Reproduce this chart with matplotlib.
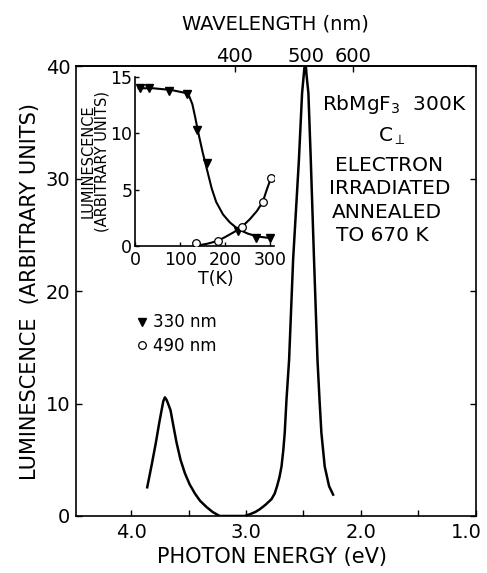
import numpy as np
import matplotlib
matplotlib.use("Agg")
from matplotlib import pyplot as plt
from matplotlib.lines import Line2D
from matplotlib.transforms import ScaledTranslation

# main spectrum, photon energy (eV) vs luminescence
energy = [3.86, 3.82, 3.785, 3.755, 3.735, 3.72, 3.706, 3.69, 3.675, 3.657,
          3.63, 3.604, 3.57, 3.532, 3.49, 3.445, 3.40, 3.344, 3.29, 3.23,
          3.01, 2.967, 2.92, 2.88, 2.83, 2.778, 2.75, 2.73, 2.71, 2.691,
          2.675, 2.663, 2.648, 2.625, 2.59, 2.54, 2.512, 2.486, 2.457,
          2.436, 2.408, 2.378, 2.36, 2.344, 2.315, 2.277, 2.242]
lum = [2.55, 4.6, 6.5, 8.3, 9.4, 10.2, 10.55, 10.3, 9.9, 9.4,
       7.9, 6.5, 5.0, 3.8, 2.8, 2.0, 1.35, 0.8, 0.35, 0.0,
       0.0, 0.15, 0.35, 0.6, 1.0, 1.5, 2.0, 2.65, 3.4, 4.4,
       5.9, 7.4, 10.3, 13.9, 22.8, 31.6, 37.6, 40.5, 37.6,
       31.6, 22.8, 13.9, 10.3, 7.4, 4.4, 2.65, 1.9]

# inset: temperature dependence
t_330 = [10, 30, 75, 115, 137, 159, 228, 268, 300]
l_330 = [14.0, 14.0, 13.8, 13.5, 10.3, 7.35, 1.3, 0.68, 0.72]
t_330_fit = [8, 40, 80, 110, 120, 127, 133, 140, 150, 160, 170, 180,
             195, 210, 228, 250, 270, 300]
l_330_fit = [14.0, 14.0, 13.85, 13.6, 13.3, 12.6, 11.5, 10.1, 8.3, 6.7,
             5.1, 3.9, 2.8, 2.1, 1.5, 1.1, 0.85, 0.7]

t_490 = [135, 183, 237, 283, 301]
l_490 = [0.3, 0.45, 1.7, 3.9, 6.0]
t_490_fit = [140, 160, 183, 200, 220, 237, 255, 270, 283, 292, 301]
l_490_fit = [0.05, 0.2, 0.45, 0.8, 1.25, 1.7, 2.4, 3.1, 3.9, 5.0, 6.0]

wl_ticks = [400, 500, 600]
hc = 1239.84

plt.rcParams['font.family'] = ['DejaVu Sans']
plt.rcParams['axes.linewidth'] = 1.2
plt.rcParams['mathtext.default'] = 'regular'

fig = plt.figure(figsize=(4.87, 5.73), dpi=100)
ax = fig.add_axes([0.156, 0.0995, 0.821, 0.785])

ax.plot(energy, lum, color='black', lw=1.8, clip_on=True)
ax.set_xlim(4.48, 1.0)
ax.set_ylim(0, 40)
ax.set_xticks([4.0, 3.0, 2.0, 1.0])
ax.set_xticklabels(['4.0', '3.0', '2.0', '1.0'])
ax.set_xticks([3.5, 2.5, 1.5], minor=True)
ax.set_yticks([0, 10, 20, 30, 40])
ax.tick_params(which='both', direction='in', length=4, width=1,
               top=False, right=True, labelsize=14)
ax.tick_params(axis='x', pad=5)
ax.tick_params(axis='y', pad=4)
ax.set_xlabel('PHOTON ENERGY (eV)', fontsize=15)
ax.xaxis.set_label_coords(0.49, -0.07)
ax.set_ylabel('LUMINESCENCE  (ARBITRARY UNITS)', fontsize=15)
ax.yaxis.set_label_coords(-0.09, 0.5)

# last energy label sits a little left of its tick, as in the original
last = ax.get_xticklabels()[-1]
last.set_transform(last.get_transform() + ScaledTranslation(-7 / 72, 0, fig.dpi_scale_trans))

sec = ax.secondary_xaxis('top', functions=(lambda e: hc / e, lambda w: hc / w))
sec.set_xticks(wl_ticks)
sec.tick_params(direction='in', length=4, width=1, labelsize=14, pad=0)
sec.set_xlabel('WAVELENGTH (nm)', fontsize=14, labelpad=13)

ax.text(1.706, 36.6, 'RbMgF$_3$  300K', fontsize=14.5, ha='center', va='center')
ax.text(1.732, 33.8, r'C$_\perp$', fontsize=14.5, ha='center', va='center')
ax.text(1.758, 31.2, 'ELECTRON', fontsize=14.5, ha='center', va='center')
ax.text(1.750, 29.1, 'IRRADIATED', fontsize=14.5, ha='center', va='center')
ax.text(1.776, 27.0, 'ANNEALED', fontsize=14.5, ha='center', va='center')
ax.text(1.81, 24.9, 'TO 670 K', fontsize=14.5, ha='center', va='center')

handles = [Line2D([], [], ls='none', marker='v', color='black', markersize=5.5),
           Line2D([], [], ls='none', marker='o', mfc='white', mec='black',
                  markersize=5.5, mew=0.9)]
ax.legend(handles, ['330 nm', '490 nm'], loc='upper left',
          bbox_to_anchor=(0.135, 0.465), frameon=False, fontsize=12,
          handlelength=0.6, handletextpad=0.4, labelspacing=0.35,
          borderaxespad=0)

# inset
ins = fig.add_axes([135 / 487, (573 - 246) / 573, 139 / 487, 169 / 573])
ins.plot(t_330_fit, l_330_fit, color='black', lw=1.5)
ins.plot(t_490_fit, l_490_fit, color='black', lw=1.5)
ins.plot(t_330, l_330, ls='none', marker='v', color='black', markersize=5.5)
ins.plot(t_490, l_490, ls='none', marker='o', mfc='white', mec='black',
         markersize=5.5, mew=0.9, zorder=3)
ins.set_xlim(0, 308)
ins.set_ylim(0, 15)
ins.set_xticks([0, 100, 200, 300])
ins.set_yticks([0, 5, 10, 15])
ins.spines['top'].set_visible(False)
ins.spines['right'].set_visible(False)
ins.patch.set_alpha(0)
ins.tick_params(direction='in', length=3, width=1, labelsize=12.5, pad=2)
ins.tick_params(axis='x', pad=3.5)
ins.set_xlabel('T(K)', fontsize=12.5)
ins.xaxis.set_label_coords(0.58, -0.14)
ins.set_ylabel('LUMINESCENCE\n(ARBITRARY UNITS)', fontsize=10.5, linespacing=0.95)
ins.yaxis.set_label_coords(-0.18, 0.5)

fig.savefig('out.png', dpi=100)
